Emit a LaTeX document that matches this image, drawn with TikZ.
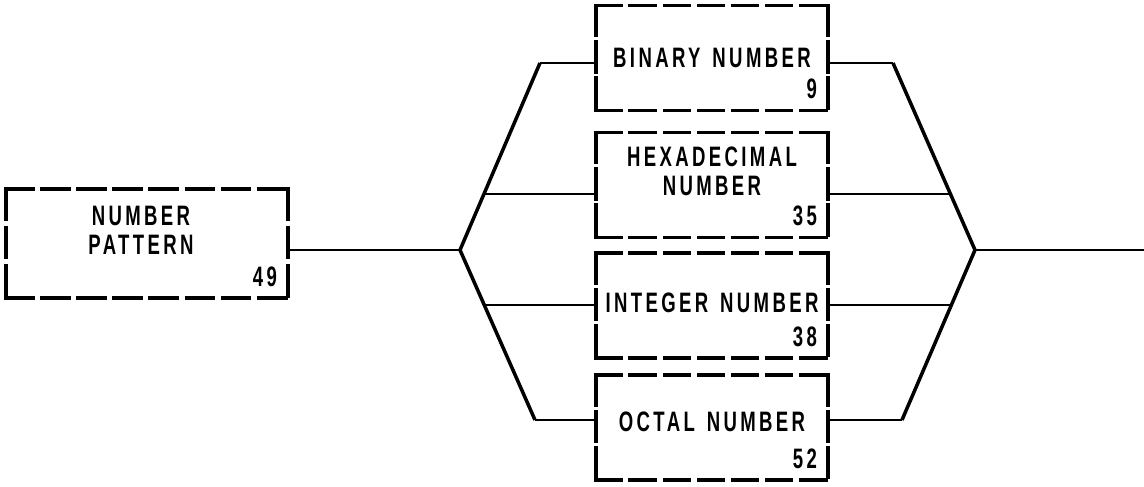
\documentclass[tikz,border=0pt]{standalone}
\usepackage{fontspec}
\newfontfamily\chartfont[FakeStretch=0.66,LetterSpace=12,WordSpace=1.4]{Liberation Sans}
\usepackage{tikz}
\usetikzlibrary{calc}

\begin{document}
\begin{tikzpicture}[
    line width=1.3pt,
    every node/.style={font=\chartfont\bfseries\fontsize{16pt}{16.5pt}\selectfont, inner sep=0pt},
    box/.style={minimum width=4.6cm, minimum height=2.05cm},
    boxline/.style={line width=1.9pt, line cap=rect},
    hside/.style={boxline, dash pattern=on 0.5cm off 0.1833cm},
    vside/.style={boxline, dash pattern=on 0.6cm off 0.125cm},
    num/.style={anchor=south east, xshift=-0.2cm, yshift=0.2cm},
    branch/.style={line width=2pt, line join=round}
]
  \useasboundingbox (0,0) rectangle (22.88,9.74);

  % boxes
  \node[box, minimum width=5.6cm, minimum height=2.14cm] (pattern) at (2.94,4.87) {};
  \node[box] (binary)  at (14.24,8.58) {};
  \node[box] (hex)     at (14.24,6.04) {};
  \node[box] (integer) at (14.24,3.63) {};
  \node[box] (octal)   at (14.24,1.19) {};
  \foreach \b in {binary,hex,integer,octal} {
    \draw[hside] (\b.south west) -- (\b.south east);
    \draw[hside] (\b.north west) -- (\b.north east);
    \draw[vside] (\b.north west) -- (\b.south west);
    \draw[vside] (\b.north east) -- (\b.south east);
  }
  \draw[boxline, dash pattern=on 0.55cm off 0.1714cm] (pattern.south west) -- (pattern.south east);
  \draw[boxline, dash pattern=on 0.55cm off 0.1714cm] (pattern.north west) -- (pattern.north east);
  \draw[boxline, dash pattern=on 0.6cm off 0.17cm] (pattern.north west) -- (pattern.south west);
  \draw[boxline, dash pattern=on 0.6cm off 0.17cm] (pattern.north east) -- (pattern.south east);

  % names
  \node[align=center] (patternname) at ([xshift=-0.12cm,yshift=0.27cm]pattern) {NUMBER\\PATTERN};
  \node (binaryname) at (binary) {BINARY NUMBER};
  \node[align=center] (hexname) at ([yshift=0.27cm]hex) {HEXADECIMAL\\NUMBER};
  \node (integername) at ([yshift=0.05cm]integer) {INTEGER NUMBER};
  \node (octalname) at ([yshift=0.11cm]octal) {OCTAL NUMBER};

  % numbers
  \node[num] (patternnum) at (pattern.south east) {49};
  \node[num] (binarynum)  at (binary.south east)  {9};
  \node[num] (hexnum)     at (hex.south east)     {35};
  \node[num] (integernum) at (integer.south east) {38};
  \node[num] (octalnum)   at (octal.south east)   {52};

  % junctions
  \coordinate (jl) at (9.2,4.74);
  \coordinate (lt) at (10.8,8.48);
  \coordinate (lb) at (10.7,1.34);
  \coordinate (jr) at (19.5,4.74);
  \coordinate (rt) at (17.86,8.48);
  \coordinate (rb) at (18.04,1.34);
  \coordinate (out) at (22.88,4.74);
  \coordinate (lh) at ($(jl)!0.3!(lt)$);
  \coordinate (li) at ($(jl)!0.324!(lb)$);
  \coordinate (rh) at ($(jr)!0.3!(rt)$);
  \coordinate (ri) at ($(jr)!0.324!(rb)$);

  % connectors
  \draw (pattern.east |- jl) -- (jl);
  \draw[branch] (lt) -- (jl) -- (lb);
  \draw (lt) -- (binary.west |- lt);
  \draw (lh) -- (hex.west |- lh);
  \draw (li) -- (integer.west |- li);
  \draw (lb) -- (octal.west |- lb);
  \draw (binary.east |- rt) -- (rt);
  \draw (hex.east |- rh) -- (rh);
  \draw (integer.east |- ri) -- (ri);
  \draw (octal.east |- rb) -- (rb);
  \draw[branch] (rt) -- (jr) -- (rb);
  \draw (jr) -- (out);
\end{tikzpicture}
\end{document}
